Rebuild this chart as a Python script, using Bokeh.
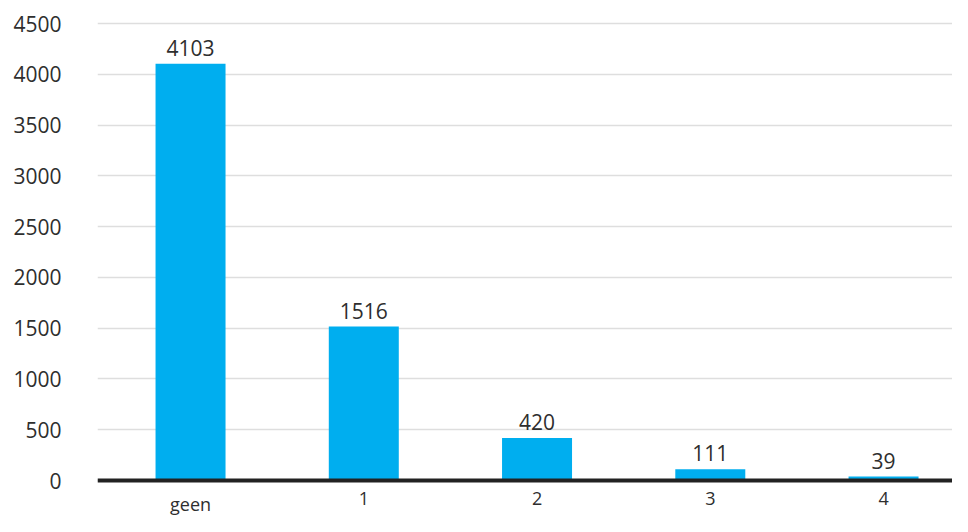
from bokeh.plotting import figure
from bokeh.models import ColumnDataSource, Range1d, FixedTicker, LabelSet, Span
from bokeh.core.properties import value
from bokeh.embed import file_html
from bokeh.resources import INLINE

categories = ["geen", "1", "2", "3", "4"]
values = [4103, 1516, 420, 111, 39]
y_ticks = [0, 500, 1000, 1500, 2000, 2500, 3000, 3500, 4000, 4500]

xs = list(range(len(categories)))
src = ColumnDataSource(dict(x=xs, top=values, label=[str(v) for v in values],
                            zero=[0] * len(xs), cat=categories))

FONT = "Open Sans"
TXT = "#2e2e2e"

p = figure(width=952, height=516, output_backend="svg", toolbar_location=None,
           x_range=Range1d(-0.537, 4.398), y_range=Range1d(-354, 4628),
           min_border_left=97, min_border_right=0, min_border_top=10, min_border_bottom=0)
p.outline_line_color = None
p.background_fill_color = "white"
p.border_fill_color = "white"

p.vbar(x="x", top="top", width=0.404, bottom=0, source=src, color="#00AEEF", line_color=None)

p.add_layout(Span(location=0, dimension="width", line_color="#222222", line_width=4))

labels = LabelSet(x="x", y="top", text="label", source=src, text_align="center",
                  text_baseline="bottom", y_offset=8, text_font=value(FONT),
                  text_font_size="21px", text_color=TXT)
p.add_layout(labels)

cat_labels = LabelSet(x="x", y="zero", text="cat", source=src, text_align="center",
                      text_baseline="top", y_offset=-11, text_font=value(FONT),
                      text_font_size="18px", text_color=TXT)
p.add_layout(cat_labels)

p.xgrid.grid_line_color = None
p.xaxis.visible = False
p.ygrid.grid_line_color = "#dedede"
p.ygrid.grid_line_width = 1.5
p.yaxis.ticker = FixedTicker(ticks=y_ticks)
p.yaxis.axis_line_color = None
p.yaxis.major_tick_line_color = None
p.yaxis.minor_tick_line_color = None
p.yaxis.major_label_standoff = 30
p.yaxis.major_label_text_font = FONT
p.yaxis.major_label_text_font_size = "21px"
p.yaxis.major_label_text_color = TXT

open("out.html", "w").write(file_html(p, INLINE))
